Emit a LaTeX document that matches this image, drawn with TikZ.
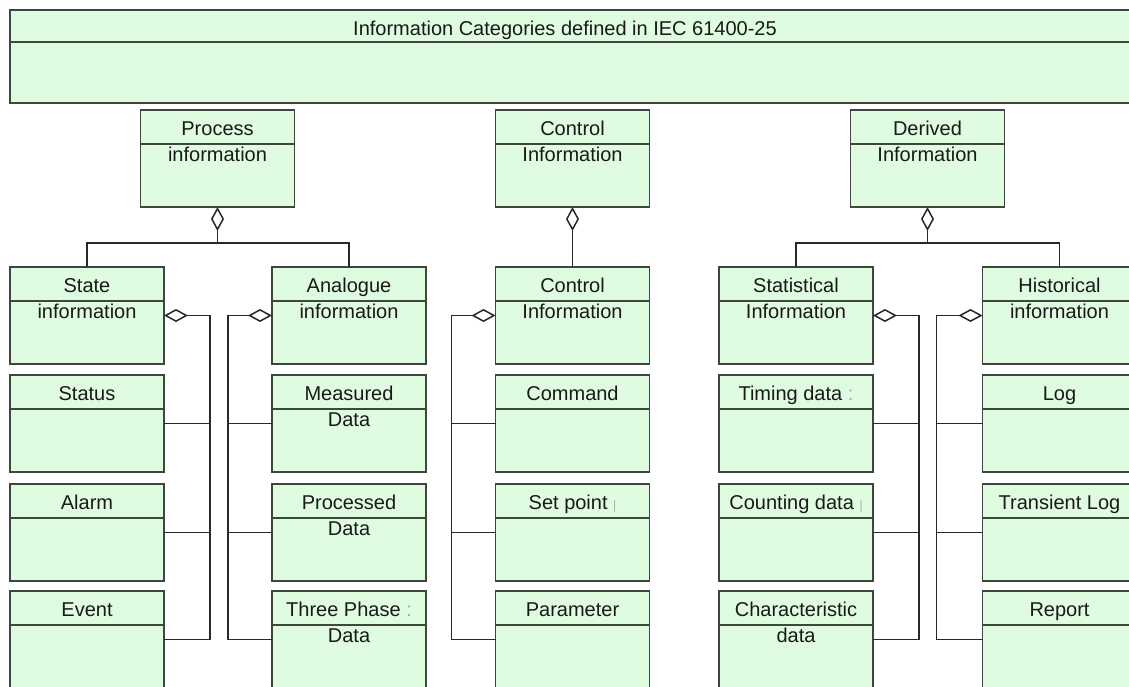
\documentclass[tikz,border=0pt]{standalone}
\usepackage{fontspec}
\setmainfont{Liberation Sans}
\usetikzlibrary{arrows.meta}
\definecolor{boxc}{RGB}{224,252,224}
\definecolor{bordc}{RGB}{62,70,62}
\definecolor{linec}{RGB}{40,40,40}
\definecolor{txtc}{RGB}{25,25,25}
\definecolor{faint}{RGB}{170,170,170}
\tikzset{
  cls/.style={draw=bordc, fill=boxc, line width=1.8pt, minimum width=154pt, minimum height=97pt, inner sep=0pt, outer sep=0pt},
  div/.style={draw=bordc, line width=1.6pt},
  lbl/.style={anchor=base, inner sep=0pt, text=txtc, font=\fontsize{20}{26}\selectfont},
  conn/.style={draw=linec, line width=1.5pt},
  agg/.style={conn, {Diamond[length=24pt,width=13pt,fill=white]}-},
}
\newcommand{\ubox}[5]{%
  \node[cls] (#1) at (#2,#3+48.5) {};
  \draw[div] ([yshift=-34pt]#1.north west) -- ([yshift=-34pt]#1.north east);
  \node[lbl] (#1-a) at ([yshift=-25pt]#1.north) {#4};
  \node[lbl] (#1-b) at ([yshift=-51pt]#1.north) {#5};
}
\begin{document}
\begin{tikzpicture}[x=1pt,y=-1pt]
\useasboundingbox (0,0) rectangle (1129,686);
\clip (0,0) rectangle (1129,686);
\fill[white] (0,0) rectangle (1129,686);
% title box
\node[cls, minimum width=1130pt, minimum height=93pt] (top) at (575,56.5) {};
\draw[div] ([yshift=-32pt]top.north west) -- ([yshift=-32pt]top.north east);
\node[lbl] (top-a) at (565,35) {Information Categories defined in IEC 61400-25};
% top-level categories
\ubox{proc}{217.5}{110}{Process}{information}
\ubox{ctrl}{572.5}{110}{Control}{Information}
\ubox{derv}{927.5}{110}{Derived}{Information}
% column A
\ubox{state}{87}{267}{State}{information}
\ubox{status}{87}{375}{Status}{}
\ubox{alarm}{87}{484}{Alarm}{}
\ubox{event}{87}{591}{Event}{}
% column B
\ubox{analog}{349}{267}{Analogue}{information}
\ubox{meas}{349}{375}{Measured}{Data}
\ubox{procd}{349}{484}{Processed}{Data}
\ubox{three}{349}{591}{Three Phase \textcolor{faint}{:}}{Data}
% column C
\ubox{ctrl2}{572.5}{267}{Control}{Information}
\ubox{cmd}{572.5}{375}{Command}{}
\ubox{setp}{572.5}{484}{Set point \textcolor{faint}{\fontsize{12}{12}\selectfont|}}{}
\ubox{param}{572.5}{591}{Parameter}{}
% column D
\ubox{stat}{796}{267}{Statistical}{Information}
\ubox{timing}{796}{375}{Timing data \textcolor{faint}{:}}{}
\ubox{count}{796}{484}{Counting data \textcolor{faint}{\fontsize{12}{12}\selectfont|}}{}
\ubox{charac}{796}{591}{Characteristic}{data}
% column E
\ubox{hist}{1059.5}{267}{Historical}{information}
\ubox{log}{1059.5}{375}{Log}{}
\ubox{trans}{1059.5}{484}{Transient Log}{}
\ubox{report}{1059.5}{591}{Report}{}
% aggregation: top level
\draw[agg] (proc.south) -- ++(0,36) -| (state.north);
\draw[conn] (proc.south) ++(0,36) -| (analog.north);
\draw[agg] (ctrl.south) -- (ctrl2.north);
\draw[agg] (derv.south) -- ++(0,36) -| (stat.north);
\draw[conn] (derv.south) ++(0,36) -| (hist.north);
% column A bracket
\draw[agg] (state.east) -- ++(46,0) coordinate (va) |- (event.east);
\draw[conn] (status.east) -- (status.east -| va);
\draw[conn] (alarm.east) -- (alarm.east -| va);
% column B bracket
\draw[agg] (analog.west) -- ++(-44,0) coordinate (vb) |- (three.west);
\draw[conn] (meas.west) -- (meas.west -| vb);
\draw[conn] (procd.west) -- (procd.west -| vb);
% column C bracket
\draw[agg] (ctrl2.west) -- ++(-44,0) coordinate (vc) |- (param.west);
\draw[conn] (cmd.west) -- (cmd.west -| vc);
\draw[conn] (setp.west) -- (setp.west -| vc);
% column D bracket
\draw[agg] (stat.east) -- ++(46,0) coordinate (vd) |- (charac.east);
\draw[conn] (timing.east) -- (timing.east -| vd);
\draw[conn] (count.east) -- (count.east -| vd);
% column E bracket
\draw[agg] (hist.west) -- ++(-46,0) coordinate (ve) |- (report.west);
\draw[conn] (log.west) -- (log.west -| ve);
\draw[conn] (trans.west) -- (trans.west -| ve);
\end{tikzpicture}
\end{document}
